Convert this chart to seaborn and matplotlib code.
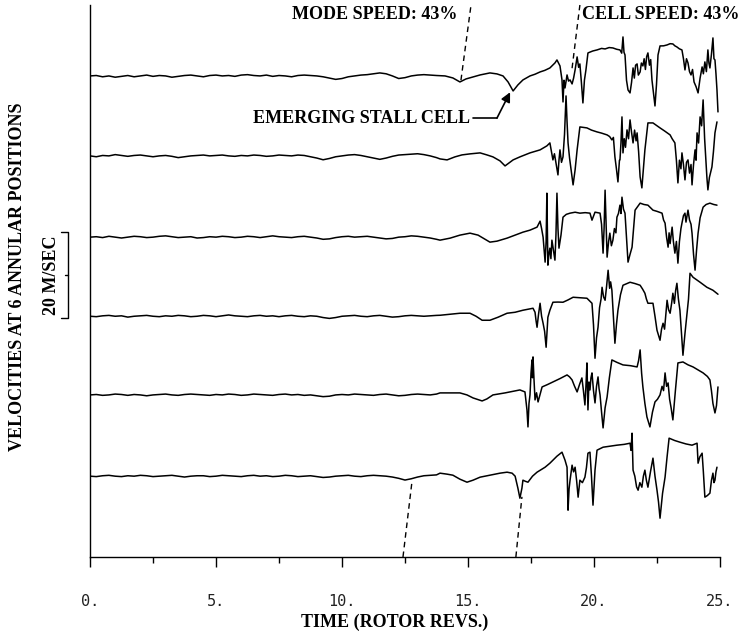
import numpy as np
import pandas as pd
import matplotlib
matplotlib.use("Agg")
import matplotlib.pyplot as plt
import seaborn as sns

# ---------------- data (time in rotor revs, velocity in m/s) ----------------
T_QUIET = np.arange(0, 14, 0.25)  # sampling times of the pre-stall part

Q1 = [0, .1, -.2, 0, -.3, -.1, .1, -.2,
      0, .2, -.1, .1, 0, -.3, -.1, .1,
      .2, 0, -.2, .1, .2, 0, .1, -.1,
      .2, .3, .1, 0, .2, -.1, .1, 0,
      -.2, .1, .2, .1, 0, -.2, -.5, -.8,
      -.6, -.2, 0, .2, .3, .5, .7, .5,
      0, -.6, -.4, 0, .2, .3, .2, .1]
Q2 = [0, -.2, .1, 0, .3, .1, -.1, .1,
      .2, 0, -.2, 0, .1, -.1, -.4, -.2,
      0, .1, .2, 0, .1, .2, 0, -.1,
      .1, 0, .2, .1, -.1, 0, .2, .1,
      0, .2, .1, -.2, -.5, -.9, -.6, -.2,
      0, .2, .3, .1, -.2, -.5, -.8, -.5,
      -.1, .2, .3, .4, .5, .3, 0, -.4]
Q3 = [0, .1, -.1, .2, 0, -.2, 0, .2,
      .1, -.1, 0, .2, .3, .1, -.1, 0,
      .1, -.2, -.1, .1, 0, .2, .1, -.1,
      0, .2, .1, -.1, .1, .3, .1, 0,
      -.1, .1, .2, 0, -.2, -.5, -.4, -.1,
      .1, .2, 0, .1, .2, 0, -.2, -.4,
      -.3, 0, .1, .3, .2, 0, -.2, -.5]
Q4 = [0, -.1, .1, .2, 0, .1, -.2, 0,
      .1, .2, 0, -.1, .1, 0, .2, .1,
      -.1, 0, .2, .1, -.1, .1, .3, .1,
      0, -.1, .1, .2, 0, .1, -.1, .1,
      .2, 0, -.1, .1, 0, -.3, -.5, -.3,
      0, .1, .2, 0, -.1, .1, .2, 0,
      -.2, -.1, .1, .2, .1, 0, .1, .2]
Q5 = [0, .1, -.1, 0, .2, .1, -.1, .1,
      0, -.2, 0, .1, .2, 0, -.1, .1,
      .2, .1, 0, -.1, .1, 0, .2, .1,
      -.1, 0, .2, .1, 0, -.1, .1, .2,
      0, .1, -.1, 0, -.2, -.4, -.3, 0,
      .1, 0, .2, .1, 0, -.1, .1, .2,
      0, -.2, -.1, .1, .2, .1, 0, .2]
Q6 = [0, -.1, .1, .2, 0, -.1, .1, 0,
      .2, .1, -.1, 0, .1, .2, 0, -.2,
      0, .1, .1, -.1, 0, .2, .1, 0,
      -.1, .1, .2, 0, .1, -.1, 0, .2,
      .1, -.1, 0, .1, -.1, -.3, -.2, 0,
      .1, .2, 0, -.1, .1, .2, .1, 0,
      -.2, -.5, -.9, -.6, -.2, .1, .2, .3]

# stall part: (time, velocity) pairs read from the record
A1 = [(14.09, 0), (14.40, -.47), (14.68, -1.40), (14.92, -.70), (15.20, -.23), (15.48, .23),
      (15.87, .70), (16.15, .47), (16.39, 0), (16.59, -1.40), (16.79, -3.49), (16.98, -2.09),
      (17.18, -.93), (17.46, 0), (17.66, .4), (17.86, .93), (18.05, 1.3), (18.25, 1.86),
      (18.45, 3.02), (18.53, 3.72), (18.65, 2.33), (18.73, -.93), (18.77, -6.05), (18.81, -1.0),
      (18.85, -2.79), (18.93, .23), (18.99, -1.2), (19.05, -.93), (19.13, -1.86), (19.19, -.5),
      (19.25, 1.40), (19.33, 4.42), (19.39, 2.0), (19.44, 2.79), (19.50, -1.5), (19.56, -6.28),
      (19.62, -1.0), (19.68, 1.40), (19.76, 5.35), (19.95, 5.8), (20.12, 6.05), (20.30, 6.4),
      (20.44, 6.28), (20.60, 6.6), (20.75, 6.51), (20.90, 6.2), (21.03, 6.05), (21.10, 5.3),
      (21.15, 9.07), (21.19, 5.5), (21.23, 4.88), (21.29, -1.0), (21.35, -3.26), (21.43, -3.95),
      (21.49, -1.5), (21.55, 1.86), (21.60, -.5), (21.65, 2.5), (21.71, 2.79), (21.76, .2),
      (21.83, .93), (21.88, 3.0), (21.94, 2.33), (21.99, 4.0), (22.04, 1.5), (22.09, 4.5),
      (22.14, 5.35), (22.20, 2.5), (22.25, 3.8), (22.30, -.93), (22.36, -4.0), (22.42, -6.98),
      (22.48, -2.0), (22.54, 4.88), (22.62, 6.98), (22.76, 7.0), (22.90, 7.21), (23.02, 7.5),
      (23.13, 7.44), (23.21, 7.0), (23.29, 6.74), (23.39, 6.3), (23.49, 6.05), (23.55, 4.0),
      (23.61, 1.40), (23.67, 4.0), (23.73, 3.02), (23.79, 1.0), (23.85, .23), (23.91, 1.5),
      (23.97, -1.40), (24.05, -2.5), (24.13, -3.95), (24.21, -.5), (24.29, 2.09), (24.34, .5),
      (24.40, 3.26), (24.46, 1.0), (24.52, 6.05), (24.56, 3.0), (24.60, 1.86), (24.66, 5.0),
      (24.72, 8.84), (24.76, 4.0), (24.80, 3.72), (24.84, .5), (24.88, -3.26), (24.92, -8.37)]

A2 = [(13.89, -.70), (14.17, -.93), (14.48, -.23), (14.76, .23), (15.08, .47), (15.48, .70),
      (15.75, .23), (15.99, -.23), (16.27, -1.16), (16.47, -2.33), (16.63, -1.63), (16.79, -.93),
      (17.06, -.23), (17.46, .70), (17.86, 1.40), (18.13, 2.33), (18.25, 3.02), (18.31, 1.0),
      (18.37, -.93), (18.43, .5), (18.49, -1.63), (18.57, -4.42), (18.61, -1.0), (18.65, 1.40),
      (18.71, -1.5), (18.77, -.23), (18.83, 5.0), (18.89, 13.95), (18.93, 8.0), (18.97, 3.02),
      (19.03, -.5), (19.09, -3.26), (19.17, -6.74), (19.25, -3.26), (19.33, 1.40), (19.44, 6.74),
      (19.72, 6.51), (19.90, 6.0), (20.12, 5.58), (20.30, 5.3), (20.52, 4.88), (20.62, 4.5),
      (20.71, 3.72), (20.77, 4.3), (20.83, -.23), (20.89, -3.0), (20.95, -6.05), (21.01, -1.0),
      (21.03, -.93), (21.07, 3.0), (21.11, 9.07), (21.15, .70), (21.20, 4.0), (21.25, 2.0),
      (21.31, 6.05), (21.37, 4.0), (21.43, 8.37), (21.49, 5.5), (21.55, 3.02), (21.61, 6.0),
      (21.67, 3.5), (21.71, 5.35), (21.77, 1.0), (21.83, -4.88), (21.90, -7.44), (21.96, -3.0),
      (22.02, 1.40), (22.14, 7.67), (22.34, 7.67), (22.50, 7.0), (22.62, 6.51), (22.80, 5.8),
      (23.02, 4.88), (23.10, 4.0), (23.21, 3.02), (23.27, -1.0), (23.33, -6.28), (23.39, -1.0),
      (23.45, -3.0), (23.49, .70), (23.55, -2.0), (23.61, -5.58), (23.67, -1.5), (23.73, -.93),
      (23.79, -4.0), (23.85, -2.0), (23.89, -6.74), (23.95, -2.0), (24.01, 1.40), (24.05, -1.0),
      (24.09, 5.35), (24.15, 3.0), (24.21, 9.07), (24.27, 7.0), (24.33, 13.02), (24.39, 4.0),
      (24.44, -.93), (24.48, -5.0), (24.52, -7.91), (24.58, -5.0), (24.68, -2.56), (24.74, 1.0),
      (24.80, 5.35), (24.88, 7.91)]

A3 = [(13.89, -.70), (14.29, -.23), (14.68, .47), (15.08, .93), (15.40, .47), (15.67, -.47),
      (15.87, -1.16), (16.15, -.93), (16.55, -.23), (16.87, .47), (17.18, 1.16), (17.46, 1.63),
      (17.74, 2.33), (17.86, 3.72), (17.92, 2.0), (17.98, 0), (18.02, -3.0), (18.06, -5.81),
      (18.10, -1.0), (18.13, 10.23), (18.17, -6.51), (18.21, -4.0), (18.25, -2.56), (18.29, -5.0),
      (18.33, -.70), (18.39, -3.0), (18.45, -5.35), (18.49, .5), (18.53, 10.23), (18.57, 2.0),
      (18.61, -2.56), (18.69, .47), (18.77, 4.65), (18.90, 5.3), (19.05, 5.58), (19.25, 5.8),
      (19.44, 5.58), (19.65, 5.7), (19.84, 5.58), (19.92, 3.95), (20.04, 5.81), (20.24, 5.58),
      (20.30, 3.0), (20.36, -3.72), (20.40, 2.0), (20.44, 10.93), (20.48, 3.0), (20.52, -4.65),
      (20.58, -1.0), (20.63, .93), (20.69, -2.0), (20.75, -.70), (20.81, 2.0), (20.87, 1.0),
      (20.91, 4.65), (20.97, 5.5), (21.03, 7.44), (21.07, 5.5), (21.11, 9.30), (21.17, 6.5),
      (21.23, 5.58), (21.29, 0), (21.35, -5.81), (21.43, -4.0), (21.51, -2.33), (21.57, 2.0),
      (21.63, 6.28), (21.83, 7.91), (21.98, 7.6), (22.14, 7.44), (22.34, 6.28), (22.50, 6.0),
      (22.70, 5.58), (22.76, 4.0), (22.82, 3.26), (22.88, 0), (22.94, -2.33), (22.98, 1.0),
      (23.02, -1.5), (23.10, 2.33), (23.15, -1.0), (23.21, -3.72), (23.27, -1.0), (23.33, -6.05),
      (23.39, -1.0), (23.45, 2.0), (23.49, 3.26), (23.55, 5.0), (23.61, 5.58), (23.65, 3.5),
      (23.73, 6.28), (23.79, 4.0), (23.85, 3.0), (23.89, .93), (23.95, -4.0), (24.01, -7.67),
      (24.07, -3.0), (24.13, .93), (24.21, 4.5), (24.33, 6.98), (24.45, 7.6), (24.60, 7.91),
      (24.75, 7.6), (24.88, 7.44)]

A4 = [(13.89, .23), (14.29, .47), (14.68, .70), (15.08, .70), (15.32, 0), (15.56, -.93),
      (15.87, -.93), (16.19, -.23), (16.55, .70), (16.87, .93), (17.18, 1.40), (17.58, 1.86),
      (17.66, .93), (17.70, -1.0), (17.74, -2.56), (17.80, .5), (17.86, 3.02), (17.92, 0),
      (17.98, -1.63), (18.04, -3.5), (18.10, -7.21), (18.17, -.23), (18.25, 1.40), (18.37, 3.26),
      (18.57, 3.3), (18.77, 3.26), (18.97, 3.8), (19.17, 4.42), (19.45, 4.3), (19.72, 4.19),
      (19.92, 3.02), (19.98, -2.0), (20.04, -9.77), (20.10, -5.0), (20.16, -2.56), (20.22, 2.0),
      (20.28, 4.0), (20.32, 6.74), (20.38, 4.5), (20.44, 3.72), (20.50, 7.0), (20.56, 10.70),
      (20.62, 6.5), (20.66, 8.0), (20.71, 6.05), (20.77, 0), (20.83, -6.28), (20.89, -2.0),
      (20.95, 1.40), (21.05, 5.0), (21.15, 7.21), (21.30, 7.6), (21.43, 7.91), (21.63, 7.6),
      (21.83, 7.21), (21.93, 6.3), (22.02, 5.35), (22.08, 4.0), (22.14, 3.02), (22.34, 3.02),
      (22.42, 0), (22.50, -3.26), (22.62, -5.58), (22.68, -3.0), (22.74, -1.63), (22.80, -3.0),
      (22.90, 3.72), (22.96, 1.5), (23.02, .70), (23.08, 3.0), (23.13, 5.35), (23.19, 3.0),
      (23.24, 6.0), (23.29, 7.67), (23.35, 4.0), (23.41, 1.40), (23.47, -4.0), (23.53, -9.07),
      (23.61, -4.0), (23.69, .70), (23.75, 4.0), (23.81, 10.00), (23.93, 9.07), (24.21, 7.91),
      (24.48, 6.74), (24.72, 6.05), (24.92, 5.12)]

A5 = [(13.89, .47), (14.29, .47), (14.68, .47), (14.96, 0), (15.20, -.70), (15.56, -1.40),
      (15.75, -.93), (15.99, 0), (16.47, .47), (17.06, 1.16), (17.26, .70), (17.34, -3.49),
      (17.38, -7.44), (17.42, -2.0), (17.46, 0), (17.50, 5.0), (17.54, 8.14), (17.56, 4.0),
      (17.58, 8.84), (17.62, 3.49), (17.66, -1.16), (17.72, .5), (17.78, -1.63), (17.94, 1.86),
      (18.15, 2.4), (18.37, 3.02), (18.65, 3.8), (18.93, 4.65), (19.03, 4.2), (19.13, 3.49),
      (19.23, 2.0), (19.33, .70), (19.43, 2.5), (19.52, 3.95), (19.58, 1.0), (19.64, -2.33),
      (19.68, 2.0), (19.72, 7.44), (19.76, -3.49), (19.80, 3.0), (19.84, 1.16), (19.88, 4.0),
      (19.92, 5.12), (19.98, 1.0), (20.04, -1.86), (20.10, 2.0), (20.16, 4.19), (20.20, 1.5),
      (20.24, 0), (20.30, -4.0), (20.36, -7.67), (20.44, -3.0), (20.52, -.47), (20.61, 4.0),
      (20.71, 8.14), (20.90, 7.6), (21.15, 6.98), (21.45, 6.8), (21.71, 6.51), (21.77, 8.0),
      (21.83, 10.47), (21.89, 5.0), (21.94, 1.86), (22.02, -2.0), (22.10, -5.12), (22.22, -7.44),
      (22.32, -4.0), (22.42, -1.63), (22.52, -1.0), (22.62, 0), (22.70, 2.0), (22.76, 1.0),
      (22.82, 5.12), (22.88, 2.0), (22.94, 2.79), (23.00, -1.0), (23.06, -3.0), (23.13, -5.81),
      (23.23, 1.0), (23.33, 7.44), (23.53, 7.67), (23.73, 7.0), (23.93, 6.51), (24.13, 5.8),
      (24.33, 5.12), (24.50, 4.3), (24.60, 3.49), (24.66, 1.0), (24.72, -2.0), (24.80, -4.19),
      (24.86, -2.5), (24.92, 1.86)]

A6 = [(13.89, .70), (14.17, .47), (14.40, .23), (14.68, -.70), (14.96, -1.40), (15.20, -.93),
      (15.48, -.23), (15.87, .23), (16.27, .70), (16.55, .93), (16.75, .70), (16.87, 0),
      (16.98, -2.79), (17.06, -5.12), (17.14, -2.79), (17.18, -.93), (17.28, -1.2), (17.38, -1.40),
      (17.56, 0), (17.74, .93), (18.06, 2.09), (18.25, 3.02), (18.53, 4.65), (18.73, 5.58),
      (18.85, 3.72), (18.93, 2.09), (18.97, -7.91), (19.01, -3.0), (19.05, -.93), (19.13, 2.56),
      (19.19, 1.0), (19.25, 2.09), (19.31, -1.0), (19.37, -4.88), (19.44, -.93), (19.54, -1.5),
      (19.64, -.23), (19.70, 2.0), (19.76, 5.35), (19.84, 5.58), (19.90, 0), (19.96, -6.74),
      (20.04, 1.40), (20.12, 6.05), (20.36, 6.74), (20.65, 7.0), (20.91, 7.21), (21.20, 7.4),
      (21.43, 7.67), (21.47, 6.0), (21.51, 10.00), (21.55, 1.40), (21.62, 0), (21.69, -2.5),
      (21.75, -3.26), (21.82, -1.5), (21.90, -2.56), (21.96, 0), (22.02, 1.40), (22.08, -1.0),
      (22.14, -2.56), (22.24, 1.0), (22.34, 4.19), (22.42, 0), (22.50, -3.26), (22.56, -6.0),
      (22.62, -9.77), (22.72, -4.0), (22.82, -.23), (22.90, 4.5), (22.98, 8.84), (23.20, 8.3),
      (23.41, 7.91), (23.65, 7.5), (23.89, 7.21), (24.09, 7.67), (24.13, 3.02), (24.20, 4.5),
      (24.29, 5.35), (24.34, 1.0), (24.40, -4.88), (24.50, -4.5), (24.60, -3.95), (24.66, -1.0),
      (24.72, .70), (24.76, -1.5), (24.80, -.93), (24.84, 1.0), (24.88, 2.09)]

OFFSETS = [111.9, 93.3, 74.4, 56.0, 37.7, 18.8]   # stacking offsets of the 6 probes (m/s)

# dashed "speed" lines: (t0, t1), (y0, y1)
MODE_TOP = ([14.72, 15.12], [110.9, 128.4])
CELL_TOP = ([19.13, 19.44], [113.7, 128.4])
MODE_BOT = ([12.42, 12.78], [0.0, 17.7])
CELL_BOT = ([16.90, 17.14], [0.0, 14.0])

XTICKS = [0, 5, 10, 15, 20, 25]
XTICK_LABELS = ["0.", "5.", "10.", "15.", "20.", "25."]

# ---------------- build dataframe ----------------
quiet = [Q1, Q2, Q3, Q4, Q5, Q6]
active = [A1, A2, A3, A4, A5, A6]
frames = []
for i in range(6):
    at = np.array([p[0] for p in active[i]])
    av = np.array([p[1] for p in active[i]])
    t = np.concatenate([T_QUIET, at])
    v = np.concatenate([np.array(quiet[i]), av])
    frames.append(pd.DataFrame({"t": t, "vel": v + OFFSETS[i], "probe": i + 1}))
df = pd.concat(frames, ignore_index=True)

# ---------------- plot ----------------
sns.set_theme(style="ticks")
plt.rcParams["font.family"] = ["DejaVu Sans"]

fig = plt.figure(figsize=(7.42, 6.38), dpi=100)
ax = fig.add_axes([90 / 742, 81 / 638, 630 / 742, 552 / 638])

sns.lineplot(data=df, x="t", y="vel", units="probe", estimator=None, sort=False,
             color="black", linewidth=1.1, ax=ax, legend=False)

ax.set_xlim(0, 25)
ax.set_ylim(0, 128.4)
ax.set_xlabel("")
ax.set_ylabel("")
ax.set_yticks([])
ax.set_xticks(XTICKS)
ax.set_xticklabels(XTICK_LABELS)
ax.set_xticks([2.5, 7.5, 12.5, 17.5, 22.5], minor=True)
ax.tick_params(axis="x", which="major", direction="out", length=7, width=1.0,
               pad=20, labelsize=11, colors="black")
ax.tick_params(axis="x", which="minor", direction="out", length=4, width=1.0, colors="black")
for lbl in ax.get_xticklabels():
    lbl.set_fontfamily("DejaVu Sans Mono")
    lbl.set_color("#222222")
sns.despine(ax=ax)
for s in ("left", "bottom"):
    ax.spines[s].set_color("black")
    ax.spines[s].set_linewidth(1.0)

dash = dict(color="black", linewidth=1.0, linestyle=(0, (4, 3)), clip_on=False)
for xs, ys in (MODE_TOP, CELL_TOP, MODE_BOT, CELL_BOT):
    ax.plot(xs, ys, **dash)

serif = dict(family="Liberation Serif", weight="bold", size=13, color="black")
ax.text(14.6, 126.3, "MODE SPEED: 43%", ha="right", va="center", clip_on=False, **serif)
ax.text(19.52, 126.3, "CELL SPEED: 43%", ha="left", va="center", clip_on=False, **serif)
ax.text(15.08, 102.1, "EMERGING STALL CELL", ha="right", va="center", **serif)
ax.plot([15.20, 16.15], [102.1, 102.1], color="black", linewidth=1.2)
ax.annotate("", xy=(16.67, 108.1), xytext=(16.15, 102.1),
            arrowprops=dict(arrowstyle="-|>", color="black", lw=1.2,
                            mutation_scale=14, shrinkA=0, shrinkB=0))

# 20 m/s scale bar
ax.plot([-1.15, -0.87, -0.87, -1.15], [75.6, 75.6, 55.6, 55.6],
        color="black", linewidth=1.0, clip_on=False)
ax.plot([-0.87, -1.0], [65.6, 65.6], color="black", linewidth=1.0, clip_on=False)
ax.text(-1.51, 65.6, "20 M/SEC", rotation=90, ha="center", va="center", clip_on=False, **serif)

fig.text(18 / 742, 1 - 277 / 638, "VELOCITIES AT 6 ANNULAR POSITIONS", rotation=90,
         ha="center", va="center", **serif)
fig.text(395 / 742, 1 - 622 / 638, "TIME (ROTOR REVS.)", ha="center", va="center", **serif)

fig.savefig("out.png", dpi=100, facecolor="white")
